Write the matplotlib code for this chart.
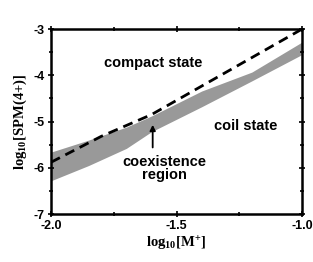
import matplotlib
matplotlib.use("Agg")
import matplotlib.pyplot as plt

# coexistence band (lower / upper boundary)
band_x = [-2.0, -1.85, -1.7, -1.6, -1.4, -1.2, -1.0]
band_top = [-5.66, -5.40, -5.12, -4.88, -4.34, -3.93, -3.28]
band_bottom = [-6.28, -5.95, -5.58, -5.22, -4.68, -4.12, -3.55]

# dashed transition line
dash_x = [-2.0, -1.8, -1.6, -1.0]
dash_y = [-5.88, -5.32, -4.85, -3.0]

x_ticks = [-2.0, -1.5, -1.0]
x_tick_labels = ["-2.0", "-1.5", "-1.0"]
y_ticks = [-7, -6, -5, -4, -3]
y_tick_labels = ["-7", "-6", "-5", "-4", "-3"]

plt.rcParams["mathtext.fontset"] = "custom"
plt.rcParams["mathtext.rm"] = "Liberation Serif:bold"
plt.rcParams["mathtext.it"] = "Liberation Serif:bold"
plt.rcParams["mathtext.bf"] = "Liberation Serif:bold"
plt.rcParams["mathtext.default"] = "rm"

sans = {"family": "Liberation Sans", "weight": "bold"}

fig = plt.figure(figsize=(3.13, 2.62), dpi=100)
ax = fig.add_axes([0.163, 0.183, 0.802, 0.706])

ax.fill_between(band_x, band_bottom, band_top, color="#999999", linewidth=0)
ax.plot(dash_x, dash_y, color="black", linewidth=2.0, dashes=(3.6, 2.2))

ax.set_xlim(-2.0, -1.0)
ax.set_ylim(-7, -3)

ax.set_xticks(x_ticks)
ax.set_xticklabels(x_tick_labels, fontdict=sans, fontsize=9)
ax.set_xticks([-1.75, -1.25], minor=True)
ax.set_yticks(y_ticks)
ax.set_yticklabels(y_tick_labels, fontdict=sans, fontsize=9)
ax.set_yticks([-6.5, -5.5, -4.5, -3.5], minor=True)

ax.tick_params(which="both", direction="inout", top=True, right=True,
               width=1.2, pad=2)
ax.tick_params(which="major", length=5)
ax.tick_params(which="minor", length=3)
for s in ax.spines.values():
    s.set_linewidth(1.8)

ax.set_xlabel("log$_{10}$[M$^{+}$]", fontsize=10.5, family="Liberation Serif",
              weight="bold", labelpad=2)
ax.set_ylabel("log$_{10}$[SPM(4+)]", fontsize=10.5, family="Liberation Serif",
              weight="bold", labelpad=3)

ax.text(-1.594, -3.74, "compact state", ha="center", va="center", fontsize=10.5, **sans)
ax.text(-1.225, -5.09, "coil state", ha="center", va="center", fontsize=10.5, **sans)
ax.text(-1.55, -6.02, "coexistence\nregion", ha="center", va="center", fontsize=10.5,
        linespacing=0.9, **sans)
ax.annotate("", xy=(-1.595, -5.07), xytext=(-1.595, -5.56),
            arrowprops=dict(arrowstyle="-|>", color="black", lw=1.3,
                            mutation_scale=8, shrinkA=0, shrinkB=0))

fig.savefig("out.png", dpi=100)
